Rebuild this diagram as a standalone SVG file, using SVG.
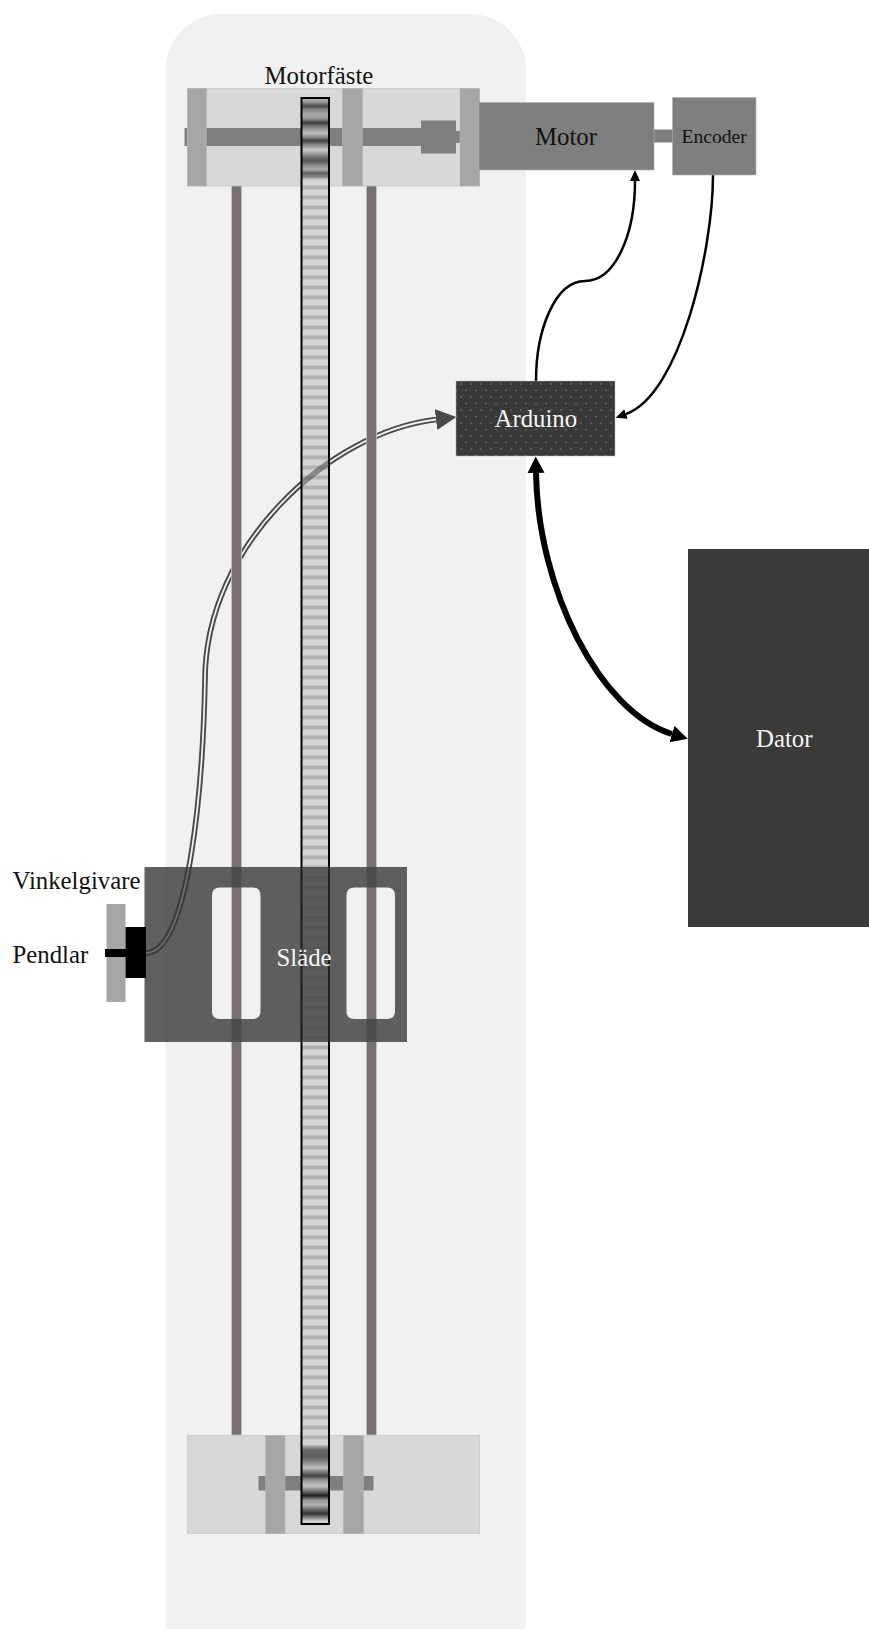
<svg xmlns="http://www.w3.org/2000/svg" xmlns:xlink="http://www.w3.org/1999/xlink" width="869" height="1629" viewBox="0 0 869 1629">
<defs>
<style>
text{font-family:"Liberation Serif","Times New Roman",serif;font-size:24.8px;fill:#111}
.w{fill:#f6f6f6}
.block{fill:#d8d8d8;stroke:#cfcfcf;stroke-width:1}
.bar{fill:#a6a6a6;stroke:#b4b4b4;stroke-width:.6}
.shaft{fill:#7f7f7f}
.rail{fill:#767170;stroke:#c2c2c2;stroke-width:.8}
.wire{fill:none;stroke:#000}
</style>
<marker id="aS" markerUnits="userSpaceOnUse" markerWidth="12" markerHeight="12" refX="0" refY="6" orient="auto" viewBox="0 0 12 12"><path d="M0 1L11 6L0 11Z" fill="#000"/></marker>
<marker id="aC" markerUnits="userSpaceOnUse" markerWidth="22" markerHeight="22" refX="0" refY="11" orient="auto" viewBox="0 0 22 22"><path d="M0 .5L20.5 11L0 21.5Z" fill="#484848"/></marker>
<marker id="aB" markerUnits="userSpaceOnUse" markerWidth="18" markerHeight="18" refX="0" refY="9" orient="auto-start-reverse" viewBox="0 0 18 18"><path d="M0 .5L16.5 9L0 17.5Z" fill="#000"/></marker>
<pattern id="dots" patternUnits="userSpaceOnUse" width="20" height="13" x="456" y="381">
<rect width="20" height="13" fill="#3a3838"/>
<circle cx="5" cy="3" r=".7" fill="#8c8c8c"/><circle cx="15" cy="3" r=".7" fill="#8c8c8c"/>
<circle cx="0" cy="9.5" r=".7" fill="#8c8c8c"/><circle cx="10" cy="9.5" r=".7" fill="#8c8c8c"/><circle cx="20" cy="9.5" r=".7" fill="#8c8c8c"/>
</pattern>
<pattern id="teeth" patternUnits="userSpaceOnUse" width="10" height="10" x="0" y="2">
<rect width="10" height="10" fill="#d4d4d4"/><rect y="3" width="10" height="1" fill="#c6c5c4"/><rect y="4" width="10" height="3" fill="#b4b2b0"/><rect y="7" width="10" height="1" fill="#c6c5c4"/>
</pattern>
<linearGradient id="gearTop" gradientUnits="userSpaceOnUse" x1="0" y1="98" x2="0" y2="178">
<stop offset="0" stop-color="#b5b5b5"/><stop offset=".05" stop-color="#9a9a9a"/><stop offset=".1" stop-color="#4a4a4a"/><stop offset=".15" stop-color="#8a8a8a"/><stop offset=".2" stop-color="#aaa"/><stop offset=".25" stop-color="#a0a0a0"/><stop offset=".31" stop-color="#3f3f3f"/><stop offset=".36" stop-color="#808080"/><stop offset=".44" stop-color="#c0c0c0"/><stop offset=".49" stop-color="#8a8a8a"/><stop offset=".53" stop-color="#404040"/><stop offset=".59" stop-color="#8a8a8a"/><stop offset=".65" stop-color="#c8c8c8"/><stop offset=".7" stop-color="#999"/><stop offset=".75" stop-color="#666"/><stop offset=".79" stop-color="#555"/><stop offset=".84" stop-color="#888"/><stop offset=".89" stop-color="#aaa"/><stop offset=".94" stop-color="#606060"/><stop offset=".99" stop-color="#888"/><stop offset="1" stop-color="#b0b0b0"/>
</linearGradient>
<linearGradient id="gearBot" gradientUnits="userSpaceOnUse" x1="0" y1="1445" x2="0" y2="1524">
<stop offset="0" stop-color="#bbb"/><stop offset=".06" stop-color="#666"/><stop offset=".15" stop-color="#606060"/><stop offset=".22" stop-color="#8a8a8a"/><stop offset=".29" stop-color="#c0c0c0"/><stop offset=".34" stop-color="#777"/><stop offset=".39" stop-color="#444"/><stop offset=".45" stop-color="#999"/><stop offset=".52" stop-color="#c0c0c0"/><stop offset=".58" stop-color="#777"/><stop offset=".64" stop-color="#222"/><stop offset=".7" stop-color="#999"/><stop offset=".76" stop-color="#b0b0b0"/><stop offset=".82" stop-color="#666"/><stop offset=".87" stop-color="#333"/><stop offset=".92" stop-color="#888"/><stop offset=".97" stop-color="#ddd"/><stop offset="1" stop-color="#aaa"/>
</linearGradient>
<clipPath id="onSlide"><rect x="144" y="867" width="60" height="100"/></clipPath>
<clipPath id="onBelt"><rect x="302.5" y="420" width="25.5" height="80"/></clipPath>
<path id="cable" d="M146 953C190 953 203 780 205 680C205 545 330 432 436 419.5"/>
</defs>

<rect id="frame" x="165.5" y="14" width="360.5" height="1660" rx="56" ry="56" fill="#f1f1f1"/>

<g id="connectors">
<use xlink:href="#cable" href="#cable" fill="none" stroke="#4a4a4a" stroke-width="5.6" marker-end="url(#aC)"/>
<use xlink:href="#cable" href="#cable" fill="none" stroke="#f1f1f1" stroke-width="1.8"/>
<path class="wire" stroke-width="2.5" d="M536 381C536 330 555 281 585 281C615 281 635 235 635 181" marker-end="url(#aS)"/>
<path class="wire" stroke-width="2.5" d="M713 175C713 250 680 395 626 414" marker-end="url(#aS)"/>
<path class="wire" stroke-width="6" d="M536 473C538 590 600 712 672 734" marker-start="url(#aB)" marker-end="url(#aB)"/>
</g>

<g id="motorfaste">
<rect class="block" x="187.5" y="88.5" width="292" height="97.5"/>
<rect class="shaft" x="184.5" y="128" width="3" height="18"/>
<rect class="shaft" x="206" y="128" width="215" height="18"/>
<rect class="shaft" x="421" y="120.5" width="35" height="33"/>
<rect class="shaft" x="456" y="131" width="4" height="12"/>
<rect class="bar" x="187.5" y="88.5" width="19" height="97.5"/>
<rect class="bar" x="342.5" y="88.5" width="20" height="97.5"/>
<rect class="bar" x="460" y="88.5" width="19.5" height="97.5"/>
<text x="264.5" y="84">Motorfäste</text>
</g>

<g id="fastebotten">
<rect class="block" x="187.5" y="1435.5" width="292" height="98"/>
<rect class="shaft" x="258.5" y="1476" width="115" height="14.5"/>
<rect class="bar" x="265.7" y="1435.5" width="19.3" height="98"/>
<rect class="bar" x="343.5" y="1435.5" width="20" height="98"/>
</g>

<g id="rails">
<rect class="rail" x="231.5" y="186" width="10" height="1249"/>
<rect class="rail" x="366.5" y="186" width="10" height="1249"/>
</g>

<g id="rem">
<rect x="301.5" y="98" width="27.5" height="1426" fill="url(#teeth)"/>
<rect x="301.5" y="98" width="27.5" height="80" fill="url(#gearTop)"/>
<rect x="301.5" y="1445" width="27.5" height="79" fill="url(#gearBot)"/>
<g clip-path="url(#onBelt)"><use xlink:href="#cable" href="#cable" fill="none" stroke="#4a4a4a" stroke-width="5.6" opacity=".55"/></g>
<rect x="301.5" y="98" width="27.5" height="1426" fill="none" stroke="#000" stroke-width="2"/>
</g>

<g id="slade">
<path fill="#464646" fill-opacity=".86" fill-rule="evenodd" d="M144.5 867H407V1042H144.5ZM220 887.5Q212 887.5 212 895.5V1011Q212 1019 220 1019H252.5Q260.5 1019 260.5 1011V895.5Q260.5 887.5 252.5 887.5ZM354.5 887.5Q346.5 887.5 346.5 895.5V1011Q346.5 1019 354.5 1019H387Q395 1019 395 1011V895.5Q395 887.5 387 887.5Z"/>
<g clip-path="url(#onSlide)" fill="none">
<use xlink:href="#cable" href="#cable" stroke="#3c3c3c" stroke-width="5.6"/>
<use xlink:href="#cable" href="#cable" stroke="#6c6c6c" stroke-width="1.8"/>
</g>
<path d="M301.5 867V1042M329 867V1042" stroke="#222" stroke-width="2" fill="none"/>
<text class="w" x="276.5" y="966">Släde</text>
</g>

<g id="pendel">
<rect x="106.5" y="904" width="19" height="98" fill="#a6a6a6"/>
<rect x="125.5" y="927" width="20.5" height="51" fill="#000"/>
<rect x="105" y="949" width="21" height="8" fill="#000"/>
<text x="12.5" y="888.5">Vinkelgivare</text>
<text x="12.5" y="963">Pendlar</text>
</g>

<g id="motor">
<rect x="654" y="129.5" width="19" height="13" fill="#7f7f7f"/>
<rect x="479" y="102.5" width="175" height="67.5" fill="#7f7f7f" stroke="#b0b0b0" stroke-width=".6"/>
<text x="535" y="145">Motor</text>
</g>

<g id="encoder">
<rect x="672.5" y="97.5" width="83.5" height="77.5" fill="#7f7f7f" stroke="#b0b0b0" stroke-width=".6"/>
<text x="681.5" y="143.3" style="font-size:19.6px">Encoder</text>
</g>

<g id="arduino">
<rect x="456" y="381" width="159" height="75" fill="url(#dots)" stroke="#bbb" stroke-width=".5"/>
<text class="w" x="494.5" y="427">Arduino</text>
</g>

<g id="dator">
<rect x="688" y="549" width="182" height="378" fill="#3b3a38"/>
<text class="w" x="756" y="747">Dator</text>
</g>
</svg>
